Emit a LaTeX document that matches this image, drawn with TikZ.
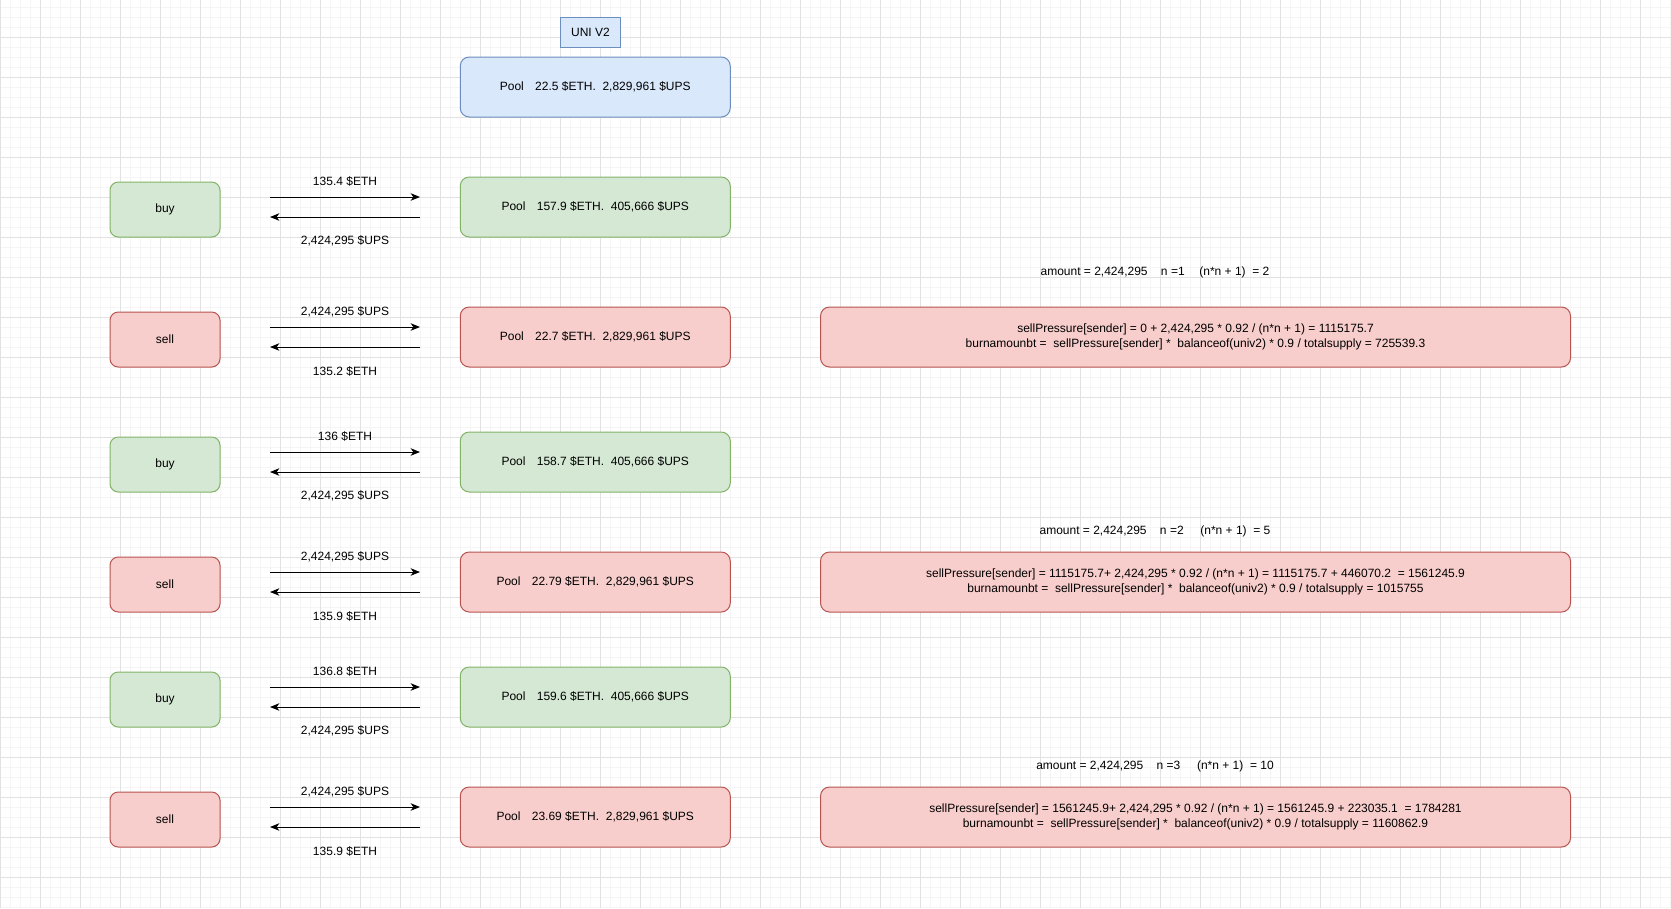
\documentclass[tikz,border=0pt]{standalone}
\usepackage{fontspec}
\setmainfont{Liberation Sans}
\usetikzlibrary{arrows.meta}

\definecolor{gfill}{HTML}{D5E8D4}
\definecolor{gline}{HTML}{82B366}
\definecolor{rfill}{HTML}{F8CECC}
\definecolor{rline}{HTML}{B85450}
\definecolor{bfill}{HTML}{DAE8FC}
\definecolor{bline}{HTML}{6C8EBF}
\definecolor{gridminor}{HTML}{F5F5F5}
\definecolor{gridmajor}{HTML}{E2E2E2}

\tikzset{
  base/.style={draw, line width=0.75pt, font=\fontsize{9}{11.1}\selectfont, inner sep=0pt, align=center},
  sidebox/.style={base, rounded corners=6.2pt, minimum width=82.5pt, minimum height=41.25pt},
  poolbox/.style={base, rounded corners=6.75pt, minimum width=202.5pt, minimum height=45pt},
  calcbox/.style={base, rounded corners=6.75pt, minimum width=562.5pt, minimum height=45pt, fill=rfill, draw=rline},
  unibox/.style={base, minimum width=45pt, minimum height=22.5pt, fill=bfill, draw=bline},
  buystyle/.style={fill=gfill, draw=gline},
  sellstyle/.style={fill=rfill, draw=rline},
  basestyle/.style={fill=bfill, draw=bline},
  lbl/.style={font=\fontsize{9}{11.1}\selectfont, inner sep=0pt},
  flow/.style={line width=0.75pt, -{Stealth[length=7pt,width=5.6pt,inset=2pt]}},
}

% one trade: side box, pool state, the two transfers and their amounts
% #1 name, #2 top of pool box (px), #3 colour style, #4 side, #5 pool text, #6 sent, #7 received
\newcommand\traderow[7]{%
  \node[sidebox,#3] (#1side) at (165,{#2+32.5}) {#4};
  \node[poolbox,#3] (#1pool) at (595.25,{#2+30}) {#5};
  \coordinate (#1la) at (270,{#2+20});
  \coordinate (#1ra) at (420,{#2+20});
  \coordinate (#1lb) at (270,{#2+40});
  \coordinate (#1rb) at (420,{#2+40});
  \draw[flow] (#1la) -- (#1ra);
  \draw[flow] (#1rb) -- (#1lb);
  \node[lbl] (#1up) at (345,{#2+4.5}) {#6};
  \node[lbl] (#1dn) at (345,{#2+64}) {#7};
}

% burn calculation beside a sell
% #1 name, #2 top of box (px), #3 height of the note above, #4 note, #5 formula lines
\newcommand\calcrow[5]{%
  \node[calcbox] (#1calc) at (1195.5,{#2+30}) {#5};
  \node[lbl] (#1amt) at (1155,{#2-#3}) {#4};
}

\newcommand\gap{\ \ }
\newcommand\poolgap{\hspace{8.5pt}}

\begin{document}
\begin{tikzpicture}[x=0.75pt,y=-0.75pt]
  \useasboundingbox (0,0) rectangle (1671,908);
  \fill[white] (0,0) rectangle (1671,908);

  % background grid
  \begin{scope}
    \clip (0,0) rectangle (1671,908);
    \foreach \x in {0,10,...,1670} \draw[gridminor, line width=0.75pt] (\x,0) -- (\x,908);
    \foreach \y in {7,17,...,907} \draw[gridminor, line width=0.75pt] (0,\y) -- (1671,\y);
    \foreach \x in {0,40,...,1640} \draw[gridmajor, line width=0.75pt] (\x,0) -- (\x,908);
    \foreach \y in {37,77,...,877} \draw[gridmajor, line width=0.75pt] (0,\y) -- (1671,\y);
  \end{scope}

  % starting state
  \node[unibox] (uni) at (590.5,32) {UNI V2};
  \node[poolbox,basestyle] (pool0) at (595.25,87) {Pool\poolgap 22.5 \$ETH.\gap 2,829,961 \$UPS};

  % trades
  \traderow{a}{177}{buystyle}{buy}{Pool\poolgap 157.9 \$ETH.\gap 405,666 \$UPS}{135.4 \$ETH}{2,424,295 \$UPS}
  \traderow{b}{307}{sellstyle}{sell}{Pool\poolgap 22.7 \$ETH.\gap 2,829,961 \$UPS}{2,424,295 \$UPS}{135.2 \$ETH}
  \traderow{c}{432}{buystyle}{buy}{Pool\poolgap 158.7 \$ETH.\gap 405,666 \$UPS}{136 \$ETH}{2,424,295 \$UPS}
  \traderow{d}{552}{sellstyle}{sell}{Pool\poolgap 22.79 \$ETH.\gap 2,829,961 \$UPS}{2,424,295 \$UPS}{135.9 \$ETH}
  \traderow{e}{667}{buystyle}{buy}{Pool\poolgap 159.6 \$ETH.\gap 405,666 \$UPS}{136.8 \$ETH}{2,424,295 \$UPS}
  \traderow{f}{787}{sellstyle}{sell}{Pool\poolgap 23.69 \$ETH.\gap 2,829,961 \$UPS}{2,424,295 \$UPS}{135.9 \$ETH}

  % burn amounts after each sell
  \calcrow{b}{307}{35}{amount = 2,424,295\hspace{10pt}n =1\hspace{11pt}(n*n + 1)\gap = 2}
    {sellPressure[sender] = 0 + 2,424,295 * 0.92 / (n*n + 1) = 1115175.7\\
     burnamounbt =\gap sellPressure[sender] *\gap balanceof(univ2) * 0.9 / totalsupply = 725539.3}
  \calcrow{d}{552}{21}{amount = 2,424,295\hspace{10pt}n =2\hspace{12.5pt}(n*n + 1)\gap = 5}
    {sellPressure[sender] = 1115175.7+ 2,424,295 * 0.92 / (n*n + 1) = 1115175.7 + 446070.2\gap = 1561245.9\\
     burnamounbt =\gap sellPressure[sender] *\gap balanceof(univ2) * 0.9 / totalsupply = 1015755}
  \calcrow{f}{787}{21}{amount = 2,424,295\hspace{10pt}n =3\hspace{12.5pt}(n*n + 1)\gap = 10}
    {sellPressure[sender] = 1561245.9+ 2,424,295 * 0.92 / (n*n + 1) = 1561245.9 + 223035.1\gap = 1784281\\
     burnamounbt =\gap sellPressure[sender] *\gap balanceof(univ2) * 0.9 / totalsupply = 1160862.9}
\end{tikzpicture}
\end{document}
